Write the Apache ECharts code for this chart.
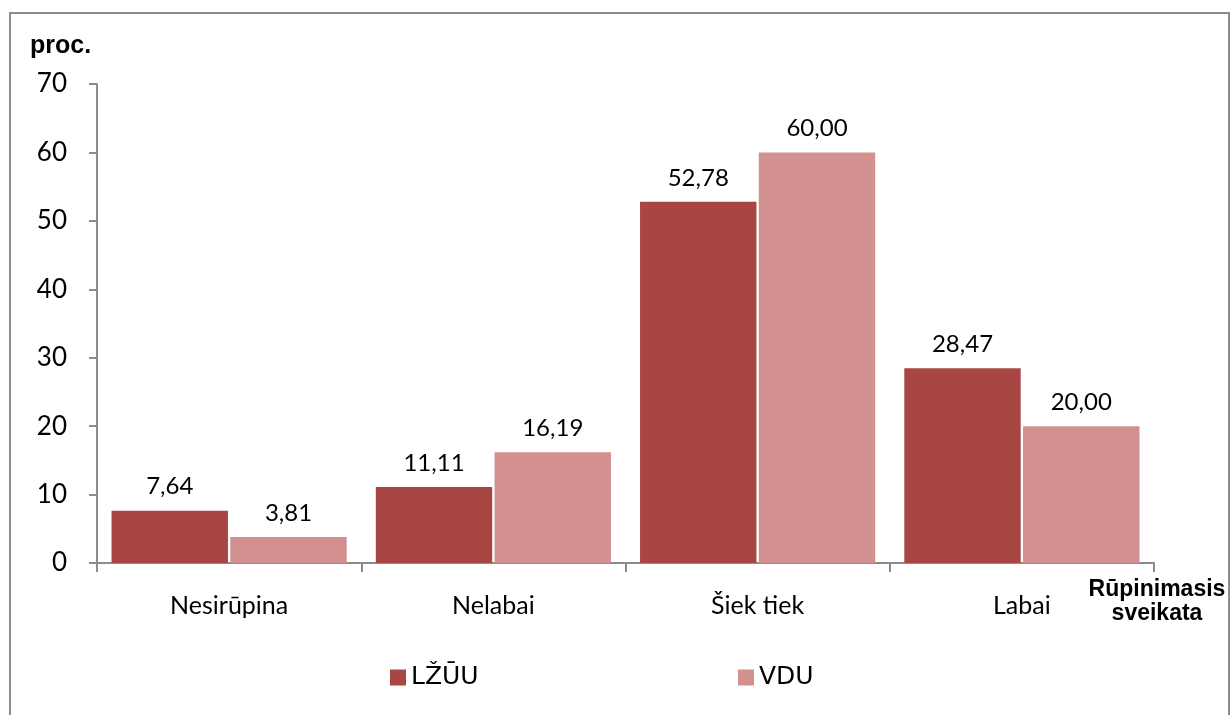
<!DOCTYPE html>
<html>
<head>
<meta charset="utf-8">
<script src="https://cdn.jsdelivr.net/npm/echarts@6/dist/echarts.min.js"></script>
<style>
  html, body { margin: 0; padding: 0; background: #fff; }
  #chart { width: 1231px; height: 715px; }
</style>
</head>
<body>
<div id="chart"></div>
<script>
// kategorijos ir reikšmės
var categories = ["Nesirūpina", "Nelabai", "Šiek tiek", "Labai"]
var lzuu = [7.64, 11.11, 52.78, 28.47]
var vdu = [3.81, 16.19, 60.00, 20.00]
var seriesNames = ["LŽŪU", "VDU"]
var yTicks = [0, 10, 20, 30, 40, 50, 60, 70]

var colorDark = "#A84644"
var colorLight = "#D29190"
var axisGray = "#8c8c8c"

var myEcharts = echarts.init(document.getElementById("chart"))

function fmt(p) {
    return p.value.toFixed(2).replace(".", ",")
}

var labelStyle = {
    show: true,
    position: "top",
    distance: 12,
    formatter: fmt,
    fontFamily: "Lato",
    fontSize: 24,
    color: "#000"
}

var option = {
    animation: false,
    backgroundColor: "#fff",
    // rėmelis aplink diagramą
    graphic: [{
        type: "rect",
        shape: { x: 10, y: 13, width: 1219, height: 720 },
        style: { fill: "none", stroke: axisGray, lineWidth: 2 }
    }],
    title: [{
        text: "proc.",
        left: 30, top: 34,
        padding: 0,
        textStyle: { fontFamily: "Liberation Sans", fontWeight: "bold", fontSize: 25, color: "#000" }
    }, {
        text: "Rūpinimasis\nsveikata",
        left: 1157, top: 578,
        padding: 0,
        textAlign: "center",
        textStyle: { fontFamily: "Liberation Sans", fontWeight: "bold", fontSize: 23, lineHeight: 24, color: "#000" }
    }],
    legend: [{
        data: [seriesNames[0]],
        left: 385, top: 660,
        itemWidth: 16, itemHeight: 16, itemGap: 10,
        icon: "rect",
        textStyle: { fontFamily: "DejaVu Sans", fontSize: 25, color: "#000" }
    }, {
        data: [seriesNames[1]],
        left: 733, top: 660,
        itemWidth: 16, itemHeight: 16, itemGap: 10,
        icon: "rect",
        textStyle: { fontFamily: "DejaVu Sans", fontSize: 25, color: "#000" }
    }],
    grid: { left: 97, right: 77, top: 84, bottom: 152 },
    xAxis: {
        type: "category",
        data: categories,
        axisLine: { lineStyle: { color: axisGray, width: 2 } },
        axisTick: { show: true, length: 9, lineStyle: { color: axisGray, width: 2 } },
        axisLabel: { margin: 30, fontFamily: "Lato", fontSize: 25, color: "#000" },
        splitLine: { show: false }
    },
    yAxis: {
        type: "value",
        min: yTicks[0],
        max: yTicks[yTicks.length - 1],
        interval: 10,
        axisLine: { show: true, lineStyle: { color: axisGray, width: 2 } },
        axisTick: { show: true, length: 8, lineStyle: { color: axisGray, width: 2 } },
        axisLabel: { margin: 30, fontFamily: "Lato", fontSize: 26, color: "#000" },
        splitLine: { show: false }
    },
    series: [{
        name: seriesNames[0],
        type: "bar",
        data: lzuu,
        barGap: "2%",
        barCategoryGap: "11%",
        itemStyle: { color: colorDark },
        label: labelStyle
    }, {
        name: seriesNames[1],
        type: "bar",
        data: vdu,
        barGap: "2%",
        barCategoryGap: "11%",
        itemStyle: { color: colorLight },
        label: labelStyle
    }]
}

myEcharts.setOption(option)
</script>
</body>
</html>
